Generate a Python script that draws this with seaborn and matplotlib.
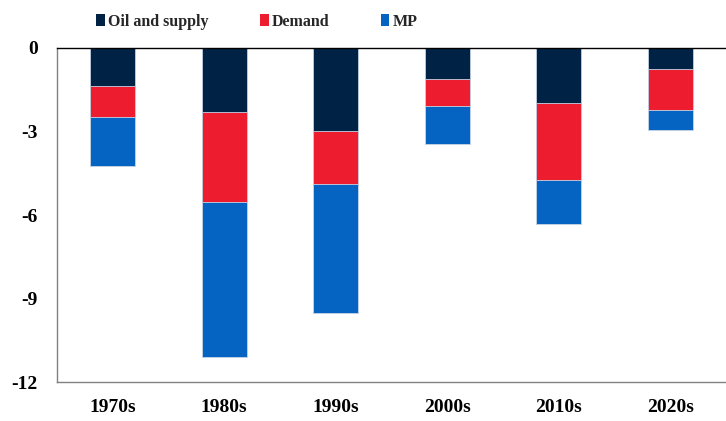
import matplotlib
matplotlib.use("Agg")
import matplotlib.pyplot as plt
from matplotlib.patches import Patch
import seaborn as sns
import pandas as pd
import numpy as np

decades = ["1970s", "1980s", "1990s", "2000s", "2010s", "2020s"]
oil_supply = [-1.36, -2.31, -2.99, -1.14, -1.99, -0.77]
demand = [-1.11, -3.23, -1.90, -0.96, -2.74, -1.46]
mp = [-1.79, -5.55, -4.63, -1.35, -1.60, -0.72]
series_names = ["Oil and supply", "Demand", "MP"]
colors = ["#002244", "#ED1C2E", "#0563C1"]
yticks = [0, -3, -6, -9, -12]

sns.set_theme(style="white")
plt.rcParams["font.family"] = ["Liberation Serif", "DejaVu Serif"]
plt.rcParams["font.weight"] = "bold"

fig = plt.figure(figsize=(7.26, 4.21), dpi=100)
ax = fig.add_axes([57 / 726, 1 - 382.3 / 421, 1 - 57 / 726, (382.3 - 47.7) / 421])

df = pd.DataFrame({"decade": decades, "oil": oil_supply, "demand": demand, "mp": mp})
df["c1"] = df["oil"]
df["c2"] = df["oil"] + df["demand"]
df["c3"] = df["c2"] + df["mp"]

for col, color in [("c3", colors[2]), ("c2", colors[1]), ("c1", colors[0])]:
    sns.barplot(data=df, x="decade", y=col, color=color, width=0.4, ax=ax,
                saturation=1, edgecolor="#c8d4e6", linewidth=0.6)

ax.set_ylim(-12, 0)
ax.set_xlim(-0.5, 5.5)
ax.set_yticks(yticks)
ax.set_yticklabels([str(t) for t in yticks])
ax.set_xlabel("")
ax.set_ylabel("")
ax.tick_params(axis="both", length=0, labelsize=14)
ax.tick_params(axis="x", pad=12)
ax.tick_params(axis="y", pad=14)
for lab in ax.get_xticklabels() + ax.get_yticklabels():
    lab.set_fontweight("bold")
    lab.set_color("black")

for s in ["left", "top", "bottom"]:
    ax.spines[s].set_visible(True)
    ax.spines[s].set_linewidth(1.0)
ax.spines["left"].set_color("#808080")
ax.spines["bottom"].set_color("#808080")
ax.spines["top"].set_color("black")
ax.spines["right"].set_visible(False)

handles = [Patch(facecolor=c, edgecolor="none") for c in colors]
leg = fig.legend(handles, series_names, loc="center", bbox_to_anchor=(0.354, 0.948),
                 ncol=3, frameon=False, handlelength=0.55, handleheight=0.8,
                 handletextpad=0.2, columnspacing=3.2,
                 prop={"family": "Liberation Serif", "weight": "bold", "size": 11.5})

fig.savefig("out.png", dpi=100)
